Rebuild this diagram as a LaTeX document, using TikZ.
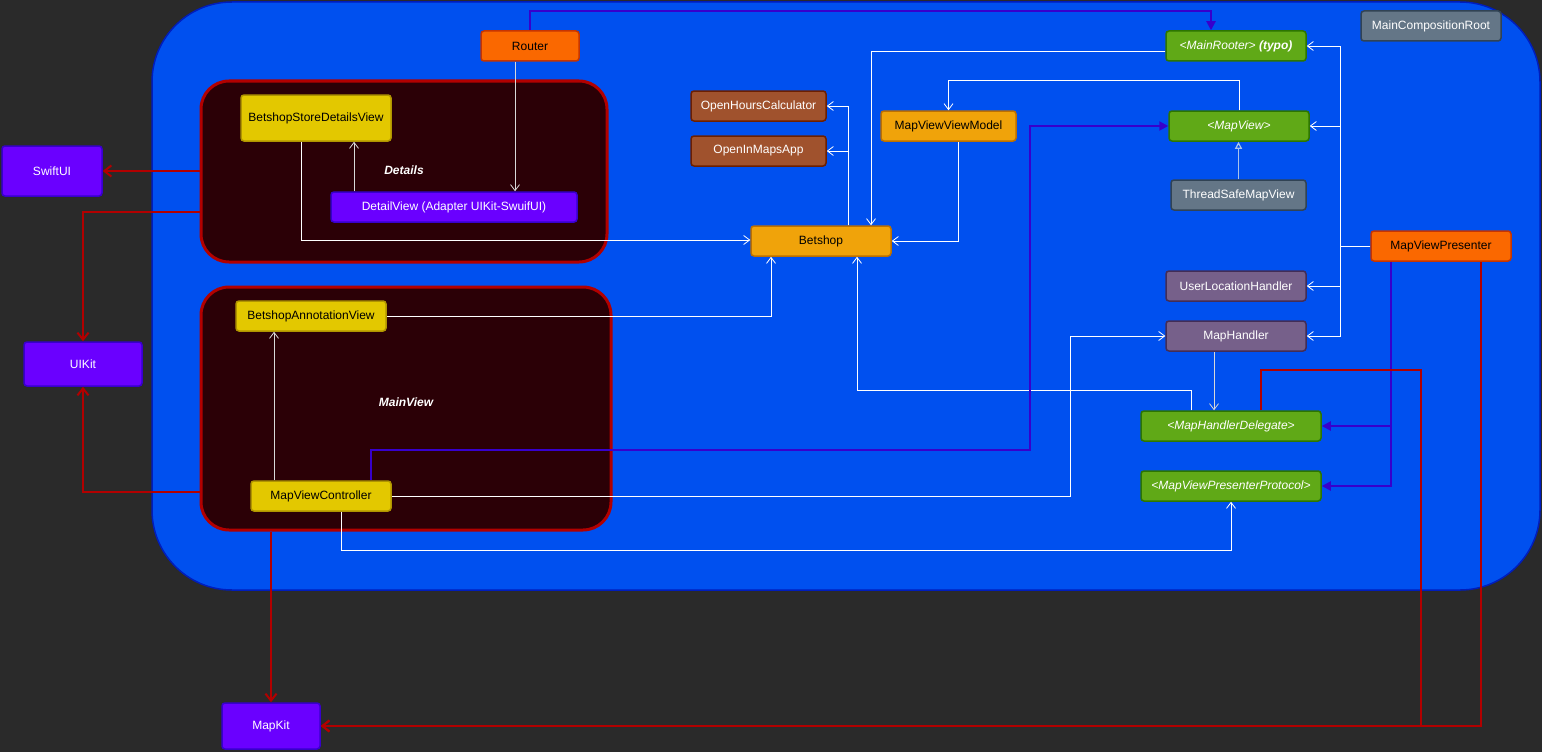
\documentclass[tikz,border=0pt]{standalone}
\usepackage{fontspec}
\setmainfont{Liberation Sans}
\usetikzlibrary{arrows.meta}
\definecolor{bgcol}{HTML}{2A2A2A}
\definecolor{blueFill}{HTML}{0050EF}
\definecolor{blueLine}{HTML}{001DBC}
\definecolor{maroonFill}{HTML}{2B0006}
\definecolor{redLine}{HTML}{B20000}
\definecolor{yellowFill}{HTML}{E3C800}
\definecolor{yellowLine}{HTML}{B09500}
\definecolor{violetFill}{HTML}{6A00FF}
\definecolor{violetLine}{HTML}{3700CC}
\definecolor{orangeFill}{HTML}{FA6800}
\definecolor{orangeLine}{HTML}{C73500}
\definecolor{amberFill}{HTML}{F0A30A}
\definecolor{amberLine}{HTML}{BD7000}
\definecolor{brownFill}{HTML}{A0522D}
\definecolor{brownLine}{HTML}{6D1F00}
\definecolor{greenFill}{HTML}{60A917}
\definecolor{greenLine}{HTML}{2D7600}
\definecolor{slateFill}{HTML}{647687}
\definecolor{slateLine}{HTML}{314354}
\definecolor{mauveFill}{HTML}{76608A}
\definecolor{mauveLine}{HTML}{432D57}
\definecolor{paleGray}{HTML}{D8D8D8}
\definecolor{paleBlue}{HTML}{A9C4EB}

\begin{document}
\begin{tikzpicture}[x=1pt, y=-1pt,
every node/.style={font=\fontsize{12}{14}\selectfont},
box/.style={rectangle, rounded corners=3, line width=1.5, inner sep=0, minimum height=30},
yellowbox/.style={box, fill=yellowFill, draw=yellowLine, text=black},
violetbox/.style={box, fill=violetFill, draw=violetLine, text=white},
orangebox/.style={box, fill=orangeFill, draw=orangeLine, text=black},
amberbox/.style={box, fill=amberFill, draw=amberLine, text=black},
brownbox/.style={box, fill=brownFill, draw=brownLine, text=white},
greenbox/.style={box, fill=greenFill, draw=greenLine, text=white, font=\fontsize{12}{14}\selectfont\itshape},
slatebox/.style={box, fill=slateFill, draw=slateLine, text=white},
mauvebox/.style={box, fill=mauveFill, draw=mauveLine, text=white},
group/.style={rectangle, draw=redLine, fill=maroonFill, line width=3, rounded corners=28, inner sep=0},
grouplabel/.style={text=white, font=\fontsize{12}{14}\selectfont\bfseries\itshape},
uses/.style={draw=white, line width=0.8, -{Straight Barb[length=6pt,width=9pt]}},
usesgray/.style={uses, draw=paleGray},
realizes/.style={draw=paleBlue, line width=1.2, -{Triangle[open,length=7pt,width=7pt]}},
calls/.style={draw=violetLine, line width=2, -{Triangle[length=9pt,width=9pt]}},
links/.style={draw=redLine, line width=2, -{Straight Barb[length=7pt,width=11pt]}}]
\fill[bgcol] (0,0) rectangle (1542,752);
\useasboundingbox (0,0) rectangle (1542,752);
\draw[blueLine, fill=blueFill, line width=1.5, rounded corners=80] (152,2) rectangle (1540,590);

\node[group, minimum width=406, minimum height=181] (details) at (404,171.5) {};
\node[group, minimum width=410, minimum height=243] (mainview) at (406,408.5) {};
\node[grouplabel] (detailslabel) at (404,170) {Details};
\node[grouplabel] (mainviewlabel) at (406,402) {MainView};

\node[violetbox, minimum width=100, minimum height=50] (swiftui) at (52,171) {SwiftUI};
\node[violetbox, minimum width=118, minimum height=44] (uikit) at (83,364) {UIKit};
\node[violetbox, minimum width=98, minimum height=46] (mapkit) at (271,726) {MapKit};
\node[orangebox, minimum width=98] (router) at (530,46) {Router};
\node[yellowbox, minimum width=150, minimum height=46] (bsdv) at (316,118) {BetshopStoreDetailsView};
\node[violetbox, minimum width=246] (dv) at (454,207) {DetailView (Adapter UIKit-SwuifUI)};
\node[yellowbox, minimum width=150] (bav) at (311,316) {BetshopAnnotationView};
\node[yellowbox, minimum width=140] (mvc) at (321,496) {MapViewController};
\node[brownbox, minimum width=135] (ohc) at (758.5,106) {OpenHoursCalculator};
\node[brownbox, minimum width=135] (oima) at (758.5,151) {OpenInMapsApp};
\node[amberbox, minimum width=135] (mvvm) at (948.5,126) {MapViewViewModel};
\node[amberbox, minimum width=140] (betshop) at (821,241) {Betshop};
\node[greenbox, minimum width=140] (mainrooter) at (1236,46) {<MainRooter> \textbf{(typo)}};
\node[greenbox, minimum width=140] (mapview) at (1239,126) {<MapView>};
\node[slatebox, minimum width=135] (tsmv) at (1238.5,195) {ThreadSafeMapView};
\node[slatebox, minimum width=140] (mcr) at (1431,26) {MainCompositionRoot};
\node[orangebox, minimum width=140] (mvp) at (1441,246) {MapViewPresenter};
\node[mauvebox, minimum width=140] (ulh) at (1236,286) {UserLocationHandler};
\node[mauvebox, minimum width=140] (mh) at (1236,336) {MapHandler};
\node[greenbox, minimum width=180] (mhd) at (1231,426) {<MapHandlerDelegate>};
\node[greenbox, minimum width=180] (mvpp) at (1231,486) {<MapViewPresenterProtocol>};

\draw[usesgray] ([xshift=-15]router.south) -- ([xshift=-15]router.south |- dv.north);
\draw[usesgray] ([xshift=-100]dv.north) -- ([xshift=-100]dv.north |- bsdv.south);
\draw[uses] ([xshift=-15]bsdv.south) |- ([yshift=1]betshop.west);
\draw[uses] (bav.east) -| ([xshift=-50]betshop.south);
\draw[usesgray] ([xshift=-47]mvc.north) -- ([xshift=-47]mvc.north |- bav.south);
\draw[uses] (mvc.east) -| ([xshift=-95]mh.west) -- (mh.west);
\draw[uses] ([xshift=20]mvc.south) -- ++(0,39) -| (mvpp.south);
\draw[uses] ([xshift=27]betshop.north) |- (ohc.east);
\draw[uses] ([xshift=27]betshop.north) |- (oima.east);
\draw[uses] ([yshift=-5]mainrooter.west) -| ([xshift=50]betshop.north);
\draw[uses] ([xshift=10]mvvm.south) |- (betshop.east);
\draw[uses] (mapview.north) -- ++(0,-30) -| (mvvm.north);
\draw[realizes] (tsmv.north) -- (tsmv.north |- mapview.south);
\coordinate (hub) at ([xshift=-30]mvp.west);
\draw[white, line width=0.8] (mvp.west) -- (hub);
\draw[uses] (hub) |- (mainrooter.east);
\draw[uses] (hub) |- (mapview.east);
\draw[uses] (hub) |- (ulh.east);
\draw[uses] (hub) |- (mh.east);
\draw[usesgray] ([xshift=-22]mh.south) -- ([xshift=-22]mh.south |- mhd.north);
\draw[uses] ([xshift=-40]mhd.north) -- ++(0,-20) -| ([xshift=36]betshop.south);

\draw[calls] (router.north) -- ++(0,-19) -| ([xshift=-25]mainrooter.north);
\draw[calls] ([xshift=50]mvc.north) -- ++(0,-30) -| ([xshift=-138]mapview.west) -- (mapview.west);
\draw[calls] ([xshift=-50]mvp.south) |- (mhd.east);
\draw[calls] ([xshift=-50]mvp.south) |- (mvpp.east);

\draw[links] (details.west |- swiftui.east) -- (swiftui.east);
\draw[links] ([yshift=-40]details.west) -| (uikit.north);
\draw[links] ([yshift=-83]mainview.west) -| (uikit.south);
\draw[links] (mainview.south -| mapkit.north) -- (mapkit.north);
\draw[links] ([xshift=40]mvp.south) |- (mapkit.east);
\draw[links] ([xshift=30]mhd.north) -- ++(0,-40) -- ++(160,0) |- (mapkit.east);
\end{tikzpicture}
\end{document}
